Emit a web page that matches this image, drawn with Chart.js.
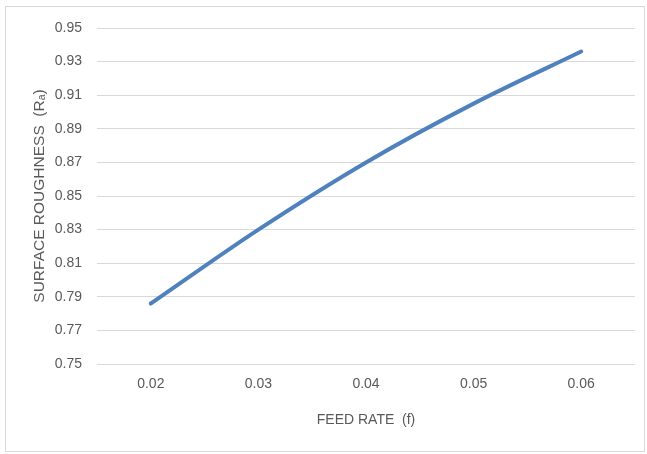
<!DOCTYPE html>
<html lang="en">
<head>
  <meta charset="UTF-8">
  <title>Surface Roughness vs Feed Rate</title>
  <style>
    body {
      margin: 0;
      background: #ffffff;
    }
    .chart-box {
      position: relative;
      width: 647px;
      height: 454px;
    }
    .frame {
      position: absolute;
      left: 5px;
      top: 6px;
      width: 640px;
      height: 446px;
      border: 1px solid #d9d9d9;
      box-sizing: border-box;
    }
    canvas {
      position: absolute;
      left: 0;
      top: 0;
    }
  </style>
</head>
<body>
  <div class="chart-box">
    <div class="frame"></div>
    <canvas id="roughness-chart" width="647" height="454"></canvas>
  </div>

  <script src="https://cdn.jsdelivr.net/npm/chart.js"></script>
  <script>
    // Data
    const feedRates = ['0.02', '0.03', '0.04', '0.05', '0.06'];
    const roughness = [0.786, 0.830, 0.870, 0.905, 0.936];
    const yTicks = [0.75, 0.77, 0.79, 0.81, 0.83, 0.85, 0.87, 0.89, 0.91, 0.93, 0.95];

    const textColor = '#595959';
    const gridColor = '#d9d9d9';
    const fontFamily = '"Liberation Sans", Arial, sans-serif';

    const ctx = document.getElementById('roughness-chart').getContext('2d');

    new Chart(ctx, {
      type: 'line',
      data: {
        labels: feedRates,
        datasets: [{
          label: 'Surface roughness',
          data: roughness,
          borderColor: '#4f81bd',
          borderWidth: 4,
          borderCapStyle: 'round',
          pointRadius: 0,
          cubicInterpolationMode: 'monotone',
          fill: false
        }]
      },
      options: {
        responsive: false,
        animation: false,
        devicePixelRatio: 1,
        layout: {
          padding: { left: 24, right: 12, top: 28, bottom: 20 }
        },
        plugins: {
          legend: { display: false },
          tooltip: { enabled: false }
        },
        scales: {
          x: {
            offset: true,
            grid: { display: false, drawTicks: false },
            border: { display: false },
            ticks: {
              color: textColor,
              padding: 12,
              font: { family: fontFamily, size: 14 }
            },
            title: {
              display: true,
              text: 'FEED RATE  (f)',
              color: textColor,
              padding: { top: 0, bottom: 5 },
              font: { family: fontFamily, size: 14 }
            },
            afterFit: (scale) => { scale.height = 70; }
          },
          y: {
            min: 0.75,
            max: 0.95,
            grid: { color: gridColor, lineWidth: 1, drawTicks: false },
            border: { display: false },
            afterBuildTicks: (scale) => {
              scale.ticks = yTicks.map(v => ({ value: v }));
            },
            ticks: {
              color: textColor,
              padding: 15,
              font: { family: fontFamily, size: 14 },
              callback: (v) => v.toFixed(2)
            },
            title: {
              display: true,
              text: 'SURFACE ROUGHNESS  (Rₐ)',
              color: textColor,
              padding: { top: 6, bottom: 0 },
              font: { family: fontFamily, size: 15.5 }
            },
            afterFit: (scale) => { scale.width = 73; }
          }
        }
      }
    });
  </script>
</body>
</html>
